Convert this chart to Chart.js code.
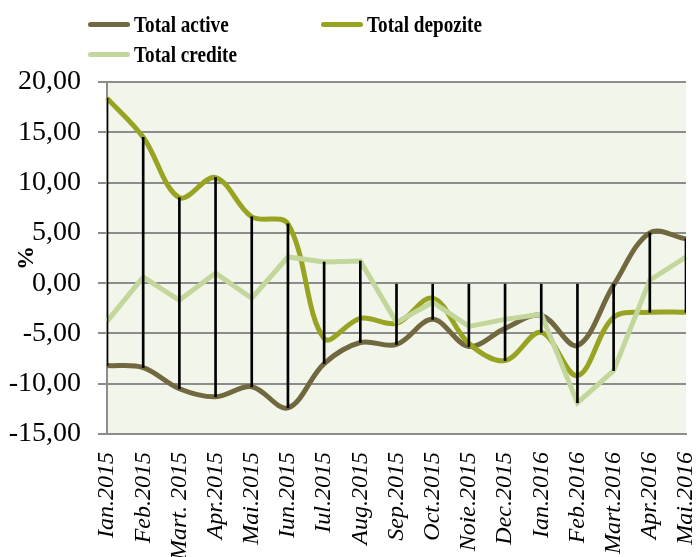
<!DOCTYPE html>
<html lang="ro">
<head>
    <meta charset="UTF-8">
    <title>Total active, depozite, credite</title>
    <script src="https://cdn.jsdelivr.net/npm/chart.js"></script>
    <style>
        body {
            margin: 0;
            background: #ffffff;
        }
        #wrap {
            position: relative;
            width: 696px;
            height: 557px;
        }
        #legend .item {
            position: absolute;
            height: 28px;
            display: flex;
            align-items: center;
            font-family: "Liberation Serif", serif;
            font-weight: bold;
            font-size: 24px;
            color: #000;
            white-space: nowrap;
        }
        #legend .sw {
            width: 42px;
            height: 5px;
            border-radius: 3px;
            margin-right: 4px;
        }
        #legend .txt {
            display: inline-block;
            transform: scaleX(0.8);
            transform-origin: left center;
        }
    </style>
</head>
<body>

<div id="wrap">
    <canvas id="chart"></canvas>
    <div id="legend"></div>
</div>

<script>
    // data
    const labels = ['Ian.2015', 'Feb.2015', 'Mart. 2015', 'Apr.2015', 'Mai.2015', 'Iun.2015',
        'Iul.2015', 'Aug.2015', 'Sep.2015', 'Oct.2015', 'Noie.2015', 'Dec.2015',
        'Ian.2016', 'Feb.2016', 'Mart.2016', 'Apr.2016', 'Mai.2016'];
    const seriesNames = ['Total active', 'Total depozite', 'Total credite'];
    const totalActive = [-8.2, -8.4, -10.5, -11.3, -10.3, -12.4, -8.0, -5.9, -6.1, -3.6, -6.3, -4.5, -3.2, -6.2, -0.2, 5.0, 4.4];
    const totalDepozite = [18.4, 14.5, 8.5, 10.5, 6.6, 5.9, -5.5, -3.5, -4.0, -1.5, -6.0, -7.7, -4.9, -9.2, -3.4, -2.9, -2.9];
    const totalCredite = [-3.8, 0.6, -1.7, 1.0, -1.5, 2.6, 2.1, 2.2, -3.9, -1.9, -4.3, -3.6, -3.1, -11.9, -8.7, 0.3, 2.6];
    const yMin = -15, yMax = 20, yStep = 5;

    const colors = ['#72683f', '#97a321', '#c3d69b'];

    // vertical lines: from the lowest value up to the highest (or zero)
    const ranges = labels.map((l, i) => {
        const vals = [totalActive[i], totalDepozite[i], totalCredite[i]];
        return [Math.min(...vals), Math.max(0, ...vals)];
    });

    // legend in html
    const legendPos = [[88, 10], [321, 10], [88, 40]];
    const legend = document.getElementById('legend');
    seriesNames.forEach((name, i) => {
        const item = document.createElement('div');
        item.className = 'item';
        item.style.left = legendPos[i][0] + 'px';
        item.style.top = legendPos[i][1] + 'px';
        item.innerHTML = '<span class="sw" style="background:' + colors[i] + '"></span><span class="txt">' + name + '</span>';
        legend.appendChild(item);
    });

    const plotBg = {
        id: 'plotBg',
        beforeDraw(chart) {
            const a = chart.chartArea;
            const c = chart.ctx;
            c.save();
            c.fillStyle = '#f1f5ea';
            c.fillRect(a.left, a.top, a.right - a.left, a.bottom - a.top);
            c.restore();
        }
    };

    const serif = 'Liberation Serif';

    const ctx = document.getElementById('chart').getContext('2d');
    new Chart(ctx, {
        type: 'line',
        data: {
            labels: labels,
            datasets: [
                {
                    type: 'bar',
                    data: ranges,
                    backgroundColor: '#000',
                    barThickness: 2,
                    order: 0
                },
                {
                    label: seriesNames[0],
                    data: totalActive,
                    borderColor: colors[0],
                    borderWidth: 5,
                    tension: 0.35,
                    pointRadius: 0,
                    order: 3
                },
                {
                    label: seriesNames[1],
                    data: totalDepozite,
                    borderColor: colors[1],
                    borderWidth: 5,
                    tension: 0.35,
                    pointRadius: 0,
                    order: 2
                },
                {
                    label: seriesNames[2],
                    data: totalCredite,
                    borderColor: colors[2],
                    borderWidth: 5,
                    tension: 0,
                    pointRadius: 0,
                    order: 1
                }
            ]
        },
        options: {
            responsive: true,
            maintainAspectRatio: false,
            animation: false,
            layout: { padding: { top: 82, right: 10, left: 0, bottom: 0 } },
            plugins: {
                legend: { display: false },
                tooltip: { enabled: false }
            },
            scales: {
                x: {
                    offset: false,
                    grid: { display: false, drawTicks: false },
                    border: { color: '#8c8c8c', width: 2 },
                    ticks: {
                        autoSkip: false,
                        maxRotation: 90,
                        minRotation: 90,
                        padding: 18,
                        color: '#000',
                        font: { family: serif, size: 24, style: 'italic' }
                    },
                    afterFit(s) {
                        s.height = 123;
                        s.paddingLeft = 0;
                        s.paddingRight = 0;
                    }
                },
                y: {
                    min: yMin,
                    max: yMax,
                    ticks: {
                        stepSize: yStep,
                        padding: 17,
                        color: '#000',
                        font: { family: serif, size: 28 },
                        callback: v => v.toFixed(2).replace('.', ',')
                    },
                    grid: { color: '#8c8c8c', lineWidth: 2, tickLength: 9 },
                    border: { color: '#8c8c8c', width: 2 },
                    title: {
                        display: true,
                        text: '%',
                        color: '#000',
                        font: { family: serif, size: 24, weight: 'bold' },
                        padding: { top: 12, bottom: 0 }
                    },
                    afterFit(s) {
                        s.width = 107;
                        s.paddingTop = 0;
                        s.paddingBottom = 0;
                    }
                }
            }
        },
        plugins: [plotBg]
    });
</script>

</body>
</html>
